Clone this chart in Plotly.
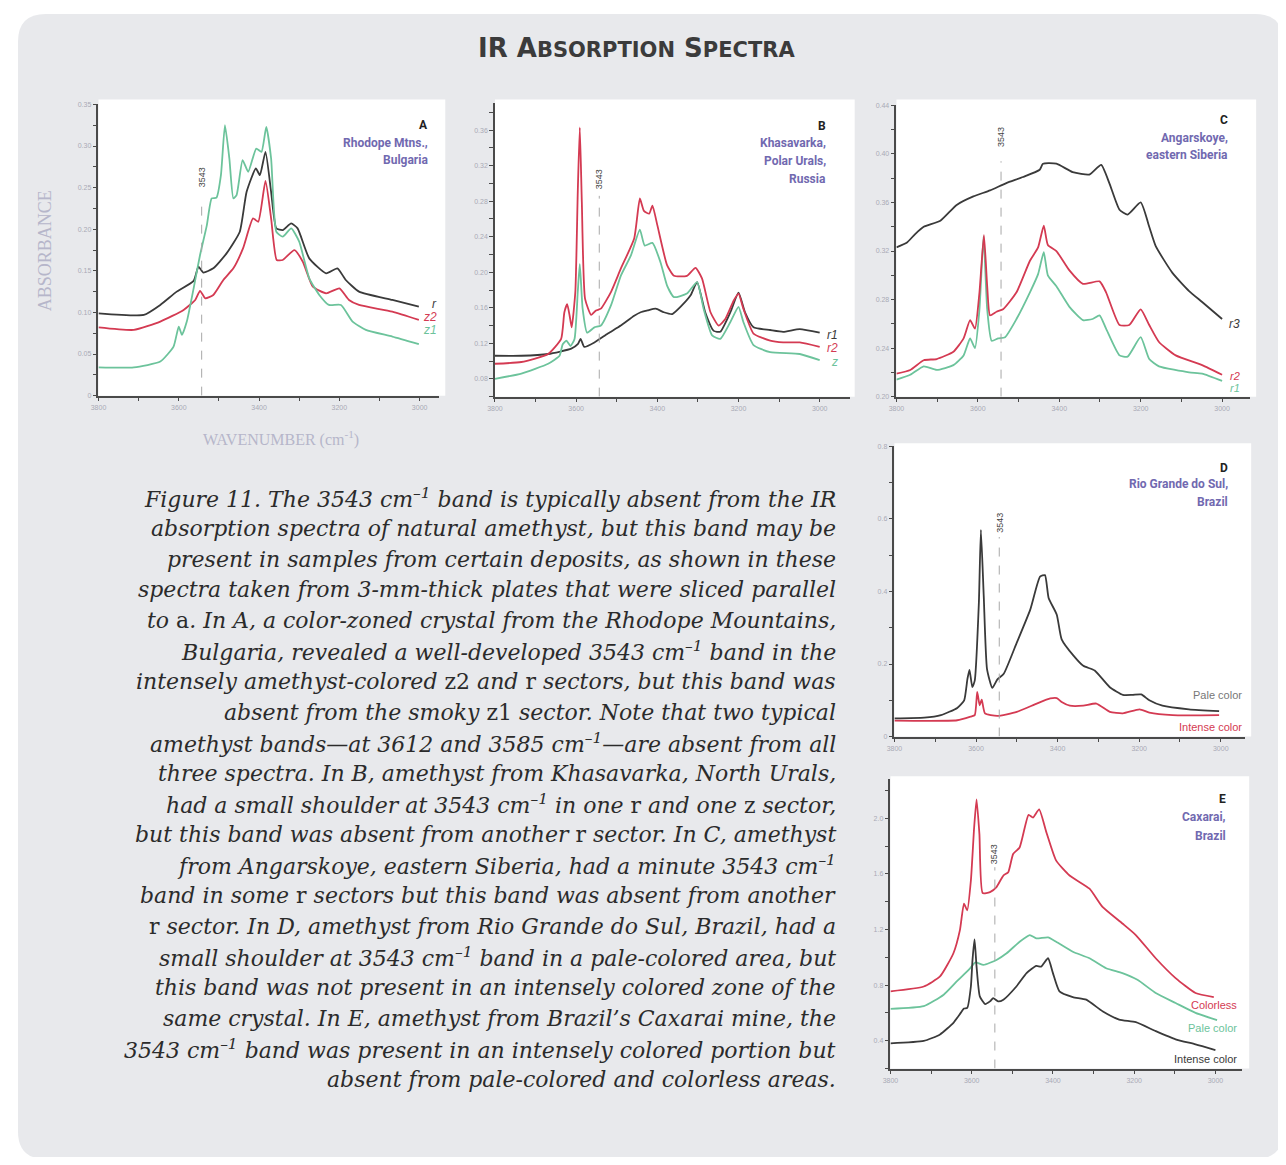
import plotly.graph_objects as go

OFF = 8               # page body margin (px)
W, H = 1286 - 2 * OFF, 1165 - 2 * OFF   # figure fits inside the window with the body margin

# ---------------- DATA (wavenumber cm-1, absorbance) ----------------
# Panel A - Rhodope Mtns., Bulgaria
A_r_wn = [3800, 3687, 3646, 3605, 3563, 3551, 3539, 3514, 3481, 3448, 3431, 3408, 3398, 3384, 3370, 3357, 3341, 3320, 3304, 3275, 3233, 3205, 3184, 3151, 3068, 3002]
A_r = [0.099, 0.097, 0.109, 0.125, 0.138, 0.155, 0.148, 0.153, 0.171, 0.197, 0.245, 0.273, 0.265, 0.293, 0.245, 0.201, 0.199, 0.207, 0.201, 0.165, 0.147, 0.153, 0.139, 0.125, 0.115, 0.107]
A_z2_wn = [3800, 3712, 3646, 3588, 3559, 3547, 3534, 3514, 3489, 3464, 3440, 3415, 3402, 3384, 3370, 3356, 3341, 3312, 3291, 3266, 3233, 3200, 3176, 3151, 3068, 3002]
A_z2 = [0.082, 0.079, 0.089, 0.103, 0.115, 0.126, 0.117, 0.121, 0.139, 0.153, 0.177, 0.213, 0.209, 0.258, 0.213, 0.163, 0.163, 0.175, 0.161, 0.131, 0.123, 0.129, 0.115, 0.109, 0.101, 0.091]
A_z1_wn = [3800, 3712, 3646, 3613, 3600, 3592, 3580, 3563, 3547, 3530, 3518, 3506, 3495, 3485, 3474, 3464, 3456, 3441, 3427, 3407, 3394, 3382, 3370, 3357, 3341, 3320, 3300, 3275, 3250, 3226, 3196, 3167, 3134, 3068, 3002]
A_z1 = [0.034, 0.034, 0.041, 0.059, 0.083, 0.073, 0.089, 0.129, 0.169, 0.205, 0.237, 0.238, 0.265, 0.325, 0.285, 0.237, 0.241, 0.283, 0.269, 0.297, 0.293, 0.323, 0.285, 0.197, 0.191, 0.201, 0.185, 0.141, 0.121, 0.109, 0.109, 0.089, 0.079, 0.071, 0.062]

# Panel B - Khasavarka, Polar Urals, Russia
B_r1_wn = [3800, 3735, 3669, 3612, 3596, 3589, 3580, 3555, 3522, 3490, 3457, 3441, 3424, 3404, 3384, 3363, 3343, 3318, 3302, 3282, 3261, 3245, 3220, 3200, 3184, 3163, 3122, 3090, 3049, 3000]
B_r1 = [0.106, 0.106, 0.108, 0.114, 0.119, 0.125, 0.116, 0.121, 0.131, 0.140, 0.151, 0.155, 0.157, 0.159, 0.155, 0.153, 0.161, 0.174, 0.189, 0.155, 0.134, 0.133, 0.155, 0.177, 0.155, 0.138, 0.135, 0.133, 0.136, 0.132]
B_r2_wn = [3800, 3735, 3669, 3637, 3629, 3622, 3616, 3611, 3602, 3596, 3591, 3586, 3578, 3563, 3551, 3539, 3514, 3490, 3457, 3443, 3433, 3420, 3412, 3400, 3376, 3359, 3327, 3306, 3290, 3269, 3249, 3233, 3212, 3200, 3188, 3163, 3122, 3090, 3049, 3000]
B_r2 = [0.097, 0.099, 0.108, 0.125, 0.155, 0.164, 0.151, 0.138, 0.178, 0.290, 0.363, 0.279, 0.170, 0.152, 0.157, 0.159, 0.178, 0.204, 0.238, 0.283, 0.269, 0.266, 0.275, 0.253, 0.208, 0.196, 0.196, 0.205, 0.193, 0.155, 0.140, 0.147, 0.168, 0.176, 0.159, 0.131, 0.123, 0.121, 0.121, 0.116]
B_z_wn = [3800, 3735, 3669, 3641, 3633, 3624, 3614, 3604, 3596, 3591, 3584, 3573, 3555, 3539, 3514, 3490, 3465, 3443, 3431, 3412, 3392, 3376, 3359, 3327, 3302, 3286, 3265, 3245, 3220, 3200, 3188, 3163, 3122, 3049, 3000]
B_z = [0.080, 0.086, 0.097, 0.106, 0.119, 0.123, 0.117, 0.125, 0.178, 0.209, 0.159, 0.132, 0.138, 0.140, 0.163, 0.196, 0.219, 0.248, 0.230, 0.233, 0.211, 0.185, 0.172, 0.176, 0.189, 0.159, 0.129, 0.125, 0.144, 0.161, 0.144, 0.118, 0.110, 0.108, 0.101]

# Panel C - Angarskoye, eastern Siberia
C_r3_wn = [3800, 3774, 3754, 3733, 3692, 3652, 3611, 3570, 3530, 3489, 3448, 3440, 3407, 3367, 3326, 3297, 3277, 3252, 3232, 3200, 3179, 3163, 3122, 3081, 3049, 3000]
C_r3 = [0.323, 0.327, 0.334, 0.340, 0.345, 0.358, 0.365, 0.370, 0.376, 0.381, 0.387, 0.392, 0.392, 0.385, 0.383, 0.391, 0.376, 0.354, 0.350, 0.360, 0.340, 0.324, 0.302, 0.287, 0.278, 0.264]
C_r2_wn = [3800, 3766, 3733, 3701, 3660, 3635, 3619, 3607, 3596, 3585, 3577, 3570, 3554, 3538, 3505, 3472, 3452, 3438, 3428, 3407, 3375, 3342, 3301, 3285, 3252, 3228, 3200, 3179, 3155, 3114, 3049, 3000]
C_r2 = [0.219, 0.222, 0.230, 0.231, 0.237, 0.248, 0.263, 0.256, 0.286, 0.333, 0.291, 0.267, 0.270, 0.272, 0.286, 0.312, 0.323, 0.341, 0.325, 0.320, 0.304, 0.293, 0.295, 0.286, 0.259, 0.259, 0.272, 0.259, 0.245, 0.234, 0.226, 0.218]
C_r1_wn = [3800, 3766, 3733, 3701, 3660, 3635, 3619, 3607, 3596, 3586, 3577, 3566, 3550, 3533, 3505, 3472, 3452, 3438, 3428, 3407, 3375, 3342, 3318, 3301, 3285, 3252, 3232, 3200, 3179, 3155, 3081, 3049, 3000]
C_r1 = [0.214, 0.218, 0.225, 0.222, 0.226, 0.234, 0.248, 0.240, 0.272, 0.332, 0.272, 0.246, 0.248, 0.249, 0.264, 0.286, 0.301, 0.319, 0.300, 0.291, 0.274, 0.263, 0.264, 0.267, 0.256, 0.234, 0.233, 0.249, 0.231, 0.225, 0.220, 0.219, 0.213]

# Panel D - Rio Grande do Sul, Brazil
D_pale_wn = [3800, 3727, 3686, 3646, 3629, 3621, 3616, 3609, 3603, 3593, 3588, 3581, 3573, 3560, 3548, 3532, 3500, 3467, 3443, 3431, 3422, 3402, 3390, 3361, 3337, 3309, 3272, 3240, 3216, 3195, 3175, 3143, 3078, 3004]
D_pale = [0.050, 0.052, 0.059, 0.079, 0.100, 0.159, 0.184, 0.136, 0.155, 0.368, 0.570, 0.386, 0.186, 0.134, 0.157, 0.173, 0.259, 0.350, 0.441, 0.445, 0.382, 0.336, 0.268, 0.223, 0.195, 0.182, 0.136, 0.115, 0.115, 0.116, 0.100, 0.085, 0.075, 0.070]
D_int_wn = [3800, 3646, 3613, 3603, 3597, 3591, 3586, 3578, 3548, 3500, 3451, 3418, 3402, 3390, 3370, 3337, 3305, 3272, 3240, 3199, 3175, 3118, 3004]
D_int = [0.044, 0.045, 0.055, 0.059, 0.123, 0.086, 0.102, 0.064, 0.057, 0.068, 0.091, 0.105, 0.106, 0.095, 0.085, 0.085, 0.091, 0.068, 0.064, 0.075, 0.066, 0.059, 0.059]

# Panel E - Caxarai, Brazil
E_col_wn = [3800, 3718, 3678, 3645, 3629, 3619, 3611, 3602, 3594, 3588, 3581, 3573, 3555, 3539, 3522, 3510, 3498, 3482, 3460, 3449, 3434, 3416, 3392, 3359, 3310, 3278, 3229, 3196, 3147, 3098, 3049, 3004]
E_col = [0.755, 0.790, 0.862, 1.029, 1.195, 1.386, 1.338, 1.552, 1.933, 2.136, 1.886, 1.462, 1.469, 1.505, 1.588, 1.612, 1.743, 1.790, 2.024, 2.005, 2.064, 1.898, 1.695, 1.588, 1.493, 1.362, 1.243, 1.160, 0.993, 0.850, 0.743, 0.714]
E_pale_wn = [3800, 3718, 3669, 3637, 3604, 3591, 3571, 3539, 3514, 3482, 3457, 3441, 3412, 3392, 3351, 3310, 3269, 3229, 3192, 3147, 3098, 3049, 2996]
E_pale = [0.629, 0.648, 0.731, 0.826, 0.921, 0.964, 0.945, 0.981, 1.029, 1.112, 1.160, 1.136, 1.143, 1.112, 1.040, 0.993, 0.921, 0.886, 0.838, 0.743, 0.671, 0.600, 0.548]
E_int_wn = [3800, 3718, 3678, 3645, 3627, 3619, 3611, 3602, 3598, 3593, 3588, 3580, 3567, 3555, 3547, 3535, 3522, 3490, 3465, 3441, 3429, 3412, 3400, 3384, 3351, 3318, 3278, 3237, 3196, 3147, 3098, 3049, 3000]
E_int = [0.381, 0.398, 0.445, 0.529, 0.600, 0.631, 0.636, 0.790, 0.981, 1.129, 0.933, 0.719, 0.664, 0.683, 0.707, 0.683, 0.695, 0.790, 0.886, 0.938, 0.933, 0.993, 0.886, 0.755, 0.714, 0.695, 0.612, 0.552, 0.533, 0.469, 0.410, 0.374, 0.333]

X_TICKS = [3800, 3700, 3600, 3500, 3400, 3300, 3200, 3100, 3000]
X_TICK_TEXT = ["3800", "", "3600", "", "3400", "", "3200", "", "3000"]

CAPTION = [
    "<i>Figure 11. The 3543 cm<sup>–1</sup> band is typically absent from the IR</i>",
    "<i>absorption spectra of natural amethyst, but this band may be</i>",
    "<i>present in samples from certain deposits, as shown in these</i>",
    "<i>spectra taken from 3-mm-thick plates that were sliced parallel</i>",
    "<i>to </i>a<i>. In A, a color-zoned crystal from the Rhodope Mountains,</i>",
    "<i>Bulgaria, revealed a well-developed 3543 cm<sup>–1</sup> band in the</i>",
    "<i>intensely amethyst-colored </i>z2<i> and </i>r<i> sectors, but this band was</i>",
    "<i>absent from the smoky </i>z1<i> sector. Note that two typical</i>",
    "<i>amethyst bands—at 3612 and 3585 cm<sup>–1</sup>—are absent from all</i>",
    "<i>three spectra. In B, amethyst from Khasavarka, North Urals,</i>",
    "<i>had a small shoulder at 3543 cm<sup>–1</sup> in one </i>r<i> and one </i>z<i> sector,</i>",
    "<i>but this band was absent from another </i>r<i> sector. In C, amethyst</i>",
    "<i>from Angarskoye, eastern Siberia, had a minute 3543 cm<sup>–1</sup></i>",
    "<i>band in some </i>r<i> sectors but this band was absent from another</i>",
    "r<i> sector. In D, amethyst from Rio Grande do Sul, Brazil, had a</i>",
    "<i>small shoulder at 3543 cm<sup>–1</sup> band in a pale-colored area, but</i>",
    "<i>this band was not present in an intensely colored zone of the</i>",
    "<i>same crystal. In E, amethyst from Brazil’s Caxarai mine, the</i>",
    "<i>3543 cm<sup>–1</sup> band was present in an intensely colored portion but</i>",
    "<i>absent from pale-colored and colorless areas.</i>",
]

# ---------------- STYLE ----------------
BLACK = "#3a3a3a"
RED = "#d43a52"
GREEN = "#6cc39b"
PURPLE = "#7169b0"
TICKFONT = dict(family="Liberation Sans Narrow, Liberation Sans, Arial", size=7, color="#a9a9b6")
AXIS_LABEL_COLOR = "#b6b6ca"


def fx(px):
    return (px - OFF) / W


def fy(py):
    return 1 - (py - OFF) / H


panels = {
    "A": dict(box=(91, 434, 101, 394), xr=[3800, 2951], yr=[0, 0.35],
              yt=[round(0.025 * i, 3) for i in range(15)],
              ylab=lambda v: ("0" if v == 0 else f"{v:.2f}") if abs(v / 0.05 - round(v / 0.05)) < 1e-6 else "",
              dash_top=0.235, lbl_y=0.262, bg=(91, 440, 96, 394)),
    "B": dict(box=(490, 847, 100, 395), xr=[3800, 2926], yr=[0.06, 0.39],
              yt=[round(0.06 + 0.02 * i, 3) for i in range(17)],
              ylab=lambda v: f"{v:.2f}" if abs((v - 0.08) / 0.04 - round((v - 0.08) / 0.04)) < 1e-6 and v >= 0.08 else "",
              dash_top=0.286, lbl_y=0.305, bg=(490, 852, 96, 395)),
    "C": dict(box=(894, 1250, 102, 395), xr=[3800, 2931], yr=[0.20, 0.44],
              yt=[round(0.20 + 0.02 * i, 3) for i in range(13)],
              ylab=lambda v: f"{v:.2f}" if abs((v - 0.20) / 0.04 - round((v - 0.20) / 0.04)) < 1e-6 else "",
              dash_top=0.394, lbl_y=0.414, bg=(894, 1256, 96, 395)),
    "D": dict(box=(892, 1245, 445, 737), xr=[3800, 2940], yr=[0, 0.8],
              yt=[round(0.1 * i, 2) for i in range(9)],
              ylab=lambda v: ("0" if v == 0 else f"{v:.1f}") if abs(v / 0.2 - round(v / 0.2)) < 1e-6 else "",
              dash_top=0.55, lbl_y=0.59, bg=(892, 1251, 442, 737)),
    "E": dict(box=(888, 1242, 780, 1071), xr=[3800, 2934], yr=[0.2, 2.28],
              yt=[round(0.2 + 0.2 * i, 2) for i in range(11)],
              ylab=lambda v: f"{v:.1f}" if abs((v - 0.4) / 0.4 - round((v - 0.4) / 0.4)) < 1e-6 and v >= 0.4 else "",
              dash_top=1.648, lbl_y=1.74, bg=(888, 1249, 777, 1071)),
}

series = {
    "A": [(A_r_wn, A_r, BLACK), (A_z2_wn, A_z2, RED), (A_z1_wn, A_z1, GREEN)],
    "B": [(B_r1_wn, B_r1, BLACK), (B_z_wn, B_z, GREEN), (B_r2_wn, B_r2, RED)],
    "C": [(C_r3_wn, C_r3, BLACK), (C_r1_wn, C_r1, GREEN), (C_r2_wn, C_r2, RED)],
    "D": [(D_int_wn, D_int, RED), (D_pale_wn, D_pale, BLACK)],
    "E": [(E_pale_wn, E_pale, GREEN), (E_int_wn, E_int, BLACK), (E_col_wn, E_col, RED)],
}

fig = go.Figure()
layout = dict(width=W, height=H, margin=dict(l=0, r=0, t=0, b=0), showlegend=False,
              paper_bgcolor="white", plot_bgcolor="rgba(0,0,0,0)")
shapes = []
annotations = []

# rounded gray background
x0, y0, x1, y1, rr = 10, 10, 1283, 1162, 28
path = (f"M {fx(x0 + rr)},{fy(y0)} L {fx(x1 - rr)},{fy(y0)} Q {fx(x1)},{fy(y0)} {fx(x1)},{fy(y0 + rr)} "
        f"L {fx(x1)},{fy(y1 - rr)} Q {fx(x1)},{fy(y1)} {fx(x1 - rr)},{fy(y1)} "
        f"L {fx(x0 + rr)},{fy(y1)} Q {fx(x0)},{fy(y1)} {fx(x0)},{fy(y1 - rr)} "
        f"L {fx(x0)},{fy(y0 + rr)} Q {fx(x0)},{fy(y0)} {fx(x0 + rr)},{fy(y0)} Z")
shapes.append(dict(type="path", path=path, xref="paper", yref="paper", fillcolor="#e8e9ec",
                   line=dict(width=0), layer="below"))

for i, (key, p) in enumerate(panels.items()):
    n = "" if i == 0 else str(i + 1)
    xa, ya = "x" + n, "y" + n
    l, r, t, b = p["box"]
    bl, br, bt, bb = p["bg"]
    shapes.append(dict(type="rect", xref="paper", yref="paper", x0=fx(bl), x1=fx(br), y0=fy(bb), y1=fy(bt),
                       fillcolor="white", line=dict(width=0), layer="below"))
    layout["xaxis" + n] = dict(domain=[fx(l), fx(r)], anchor=ya, range=p["xr"], showgrid=False, zeroline=False,
                               showline=True, linecolor="#4a4a4a", linewidth=1.5, ticks="outside", ticklen=4,
                               tickcolor="#4a4a4a", tickwidth=1.2, tickvals=X_TICKS, ticktext=X_TICK_TEXT,
                               tickfont=TICKFONT, fixedrange=True)
    layout["yaxis" + n] = dict(domain=[fy(b), fy(t)], anchor=xa, range=p["yr"], showgrid=False, zeroline=False,
                               showline=True, linecolor="#4a4a4a", linewidth=1.5, ticks="outside", ticklen=4,
                               tickcolor="#4a4a4a", tickwidth=1.2, tickvals=p["yt"],
                               ticktext=[p["ylab"](v) for v in p["yt"]], tickfont=TICKFONT, fixedrange=True)
    for wn, ab, col in series[key]:
        fig.add_trace(go.Scatter(x=wn, y=ab, xaxis=xa, yaxis=ya, mode="lines",
                                 line=dict(color=col, width=1.8, shape="spline", smoothing=0.5),
                                 hoverinfo="skip"))
    shapes.append(dict(type="line", xref=xa, yref=ya, x0=3543, x1=3543, y0=p["yr"][0], y1=p["dash_top"],
                       line=dict(color="#a8a8a8", width=1, dash="dash")))
    annotations.append(dict(x=3543, y=p["lbl_y"], xref=xa, yref=ya, text="3543", textangle=-90,
                            xanchor="center", yanchor="middle", showarrow=False,
                            font=dict(family="Liberation Sans Narrow, Liberation Sans, Arial", size=9, color="#444444")))

TITLE_FONT = "Liberation Sans Narrow, Roboto, Liberation Sans, Arial"
titles = [
    (425, 122, "A", ["Rhodope Mtns.,", "Bulgaria"], [140, 157]),
    (825, 123, "B", ["Khasavarka,", "Polar Urals,", "Russia"], [140, 158, 176]),
    (1230, 117, "C", ["Angarskoye,", "eastern Siberia"], [135, 152]),
    (1230, 467, "D", ["Rio Grande do Sul,", "Brazil"], [483, 501]),
    (1228, 800, "E", ["Caxarai,", "Brazil"], [818, 837]),
]
for xr_, yl, letter, lines, ys in titles:
    annotations.append(dict(x=fx(xr_), y=fy(yl), xref="paper", yref="paper", xanchor="right", yanchor="middle",
                            text=f"<b>{letter}</b>", showarrow=False,
                            font=dict(family=TITLE_FONT, size=12, color="#222222")))
    for txt, yy in zip(lines, ys):
        annotations.append(dict(x=fx(xr_), y=fy(yy), xref="paper", yref="paper", xanchor="right", yanchor="middle",
                                text=f"<b>{txt}</b>", showarrow=False,
                                font=dict(family=TITLE_FONT, size=12, color=PURPLE)))

slabels = [
    (434, 302, "<i>r</i>", BLACK, 12), (434, 315, "<i>z2</i>", RED, 12), (434, 328, "<i>z1</i>", GREEN, 12),
    (837, 333, "<i>r1</i>", BLACK, 12), (837, 346, "<i>r2</i>", RED, 12), (837, 360, "<i>z</i>", GREEN, 12),
    (1242, 322, "<i>r3</i>", BLACK, 12), (1242, 374, "<i>r2</i>", RED, 11), (1242, 386, "<i>r1</i>", GREEN, 11),
    (1244, 695, "Pale color", "#777777", 11), (1244, 727, "Intense color", RED, 11),
    (1239, 1007, "Colorless", RED, 11), (1239, 1030, "Pale color", GREEN, 11), (1239, 1061, "Intense color", BLACK, 11),
]
for xr_, yy, txt, col, sz in slabels:
    annotations.append(dict(x=fx(xr_), y=fy(yy), xref="paper", yref="paper", xanchor="right", yanchor="middle",
                            text=txt, showarrow=False,
                            font=dict(family="Liberation Sans, Arial", size=sz, color=col)))

# Main title (small caps)
annotations.append(dict(x=fx(632), y=fy(44), xref="paper", yref="paper", xanchor="center", yanchor="middle",
                        showarrow=False,
                        text="<b>IR A<span style='font-size:21px'>BSORPTION</span> S<span style='font-size:21px'>PECTRA</span></b>",
                        font=dict(family="DejaVu Sans, sans-serif", size=26, color="#3b3b3b")))

# Axis titles
annotations.append(dict(x=fx(37), y=fy(248), xref="paper", yref="paper", textangle=-90, showarrow=False,
                        xanchor="center", yanchor="middle",
                        text="ABSORBANCE", font=dict(family="Liberation Serif, serif", size=18, color=AXIS_LABEL_COLOR)))
annotations.append(dict(x=fx(275), y=fy(437), xref="paper", yref="paper", showarrow=False,
                        xanchor="center", yanchor="middle",
                        text="WAVENUMBER (cm<sup>-1</sup>)",
                        font=dict(family="Liberation Serif, serif", size=16, color=AXIS_LABEL_COLOR)))

# Caption
for k, line in enumerate(CAPTION):
    annotations.append(dict(x=fx(835), y=fy(497 + k * 30.8), xref="paper", yref="paper", xanchor="right",
                            yanchor="middle", showarrow=False, text=line,
                            font=dict(family="DejaVu Serif, serif", size=22, color="#2b2b2b")))

layout["shapes"] = shapes
layout["annotations"] = annotations
fig.update_layout(**layout)
fig.write_html("out.html")
